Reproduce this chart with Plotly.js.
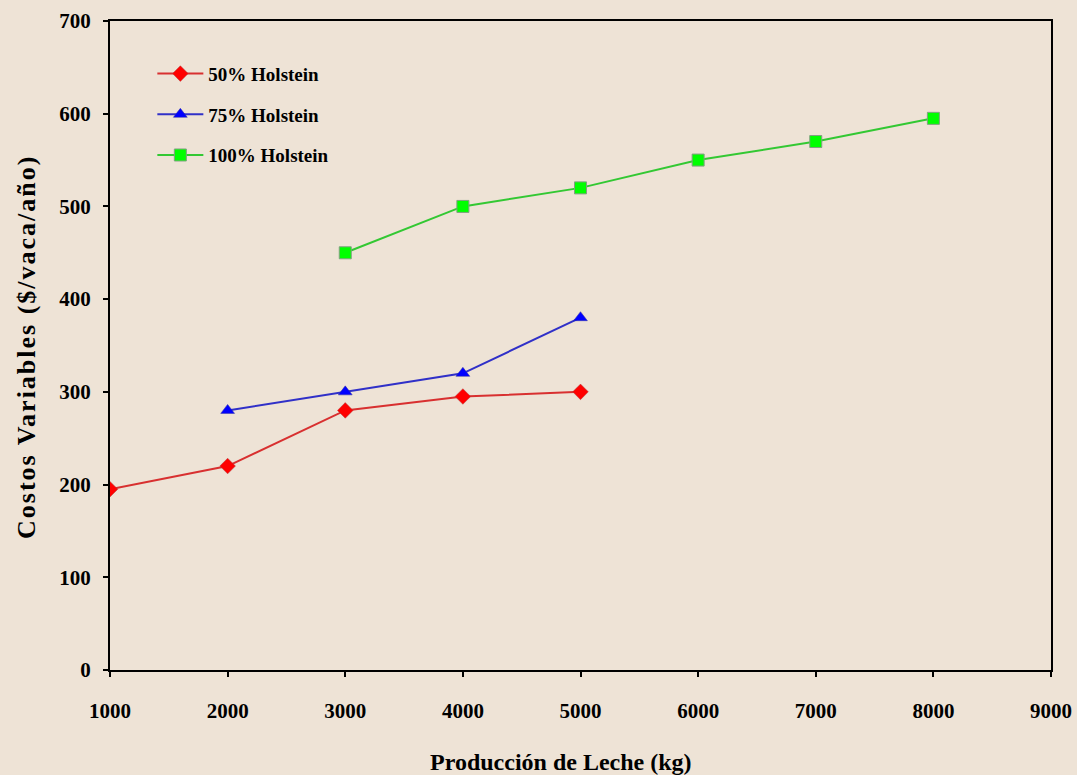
<!DOCTYPE html>
<html>
<head>
<meta charset="utf-8">
<script src="https://cdn.plot.ly/plotly-3.0.1.min.js"></script>
<style>
html,body{margin:0;padding:0;background:#eee3d6;}
#chart{width:1077px;height:775px;}
.ytitlefix{letter-spacing:2px;}
</style>
</head>
<body>
<div id="chart"></div>
<script>
const produccion50 = [1000, 2000, 3000, 4000, 5000];
const costos50 = [195, 220, 280, 295, 300];
const produccion75 = [2000, 3000, 4000, 5000];
const costos75 = [280, 300, 320, 380];
const produccion100 = [3000, 4000, 5000, 6000, 7000, 8000];
const costos100 = [450, 500, 520, 550, 570, 595];
const seriesNames = ["50% Holstein", "75% Holstein", "100% Holstein"];
const xTitle = "Producción de Leche (kg)";
const yTitle = "Costos Variables ($/vaca/año)";

const font = "'Liberation Serif', 'Times New Roman', serif";

const traces = [
  {x: produccion50, y: costos50, name: seriesNames[0], mode: "lines+markers", legendgroup: "a",
   line: {color: "#d83030", width: 2}, marker: {symbol: "diamond", size: 12, color: "#ff0000", line: {color: "#b04040", width: 0.5}}},
  {x: produccion75, y: costos75, name: seriesNames[1], mode: "lines+markers", legendgroup: "b",
   line: {color: "#3030c8", width: 2}, marker: {symbol: "triangle-up", size: 12, color: "#0000ff", line: {color: "#3030a0", width: 0.5}}},
  {x: produccion100, y: costos100, name: seriesNames[2], mode: "lines+markers", legendgroup: "c",
   line: {color: "#33c833", width: 2}, marker: {symbol: "square", size: 12, color: "#00ff00", line: {color: "#80a080", width: 1}}}
];

const layout = {
  width: 1077, height: 775,
  paper_bgcolor: "#eee3d6", plot_bgcolor: "#eee3d6",
  margin: {l: 110, r: 26, t: 21, b: 105},
  font: {family: font, color: "#000", size: 16},
  showlegend: true,
  legend: {x: 0.045, y: 0.948, xanchor: "left", yanchor: "top", bgcolor: "rgba(0,0,0,0)",
    itemwidth: 46,
    font: {family: font, size: 19, color: "#000", weight: "bold"}, traceorder: "grouped", tracegroupgap: 13},
  xaxis: {
    range: [1000, 9000], dtick: 1000, tick0: 1000,
    showgrid: false, zeroline: false,
    showline: true, linecolor: "#000", linewidth: 2, mirror: true,
    ticks: "outside", ticklen: 5, tickwidth: 2, tickcolor: "#000",
    ticklabelstandoff: 16,
    tickfont: {family: font, size: 21, weight: "bold"}
  },
  yaxis: {
    range: [0, 700], dtick: 100,
    showgrid: false, zeroline: false,
    showline: true, linecolor: "#000", linewidth: 2, mirror: true,
    ticks: "outside", ticklen: 5, tickwidth: 2, tickcolor: "#000",
    ticklabelstandoff: 8,
    tickfont: {family: font, size: 21, weight: "bold"}
  },
  annotations: [
    {text: xTitle, xref: "paper", yref: "paper", x: 0.479, y: -0.1418, xanchor: "center", yanchor: "middle",
     showarrow: false, font: {family: font, size: 24, weight: "bold", color: "#000"}},
    {text: yTitle, xref: "paper", yref: "paper", x: -0.0882, y: 0.4977, xanchor: "center", yanchor: "middle",
     textangle: -90, showarrow: false, font: {family: font, size: 26, weight: "bold", color: "#000"}}
  ]
};

Plotly.newPlot("chart", traces, layout, {displayModeBar: false, staticPlot: true}).then(() => {
  const anns = document.querySelectorAll(".annotation-text");
  if (anns.length > 1) anns[1].classList.add("ytitlefix");
});
</script>
</body>
</html>
